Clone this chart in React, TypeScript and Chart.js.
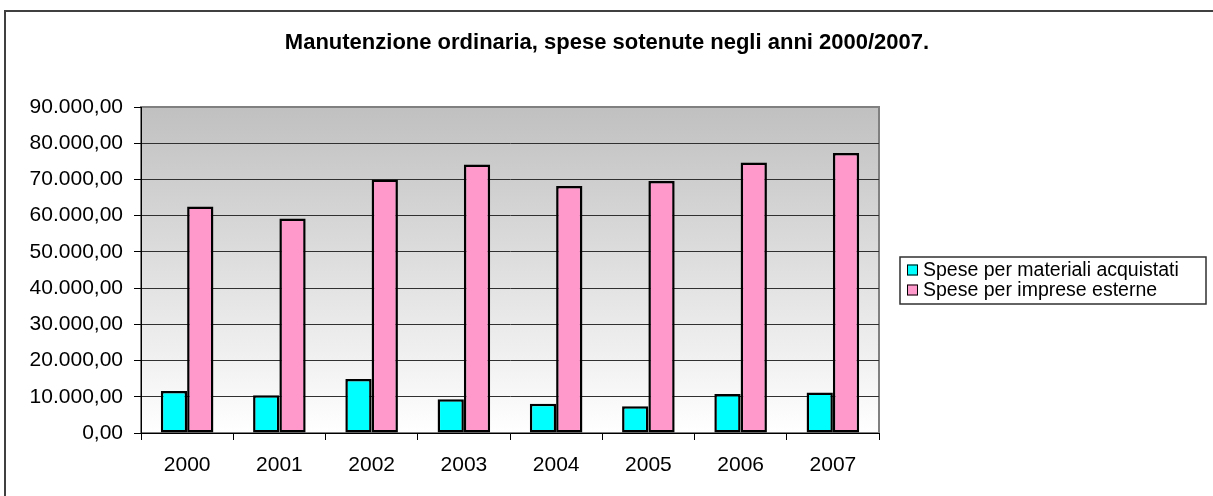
import { useEffect, useRef } from 'react';
import { Chart, registerables } from 'chart.js';

Chart.register(...registerables);

const TITLE = 'Manutenzione ordinaria, spese sotenute negli anni 2000/2007.';
const CATEGORIES = ['2000', '2001', '2002', '2003', '2004', '2005', '2006', '2007'];
const SERIES_LABELS = ['Spese per materiali acquistati', 'Spese per imprese esterne'];
const MATERIALI = [11600, 10400, 14900, 9300, 8100, 7400, 10800, 11200];
const IMPRESE = [62500, 59200, 70000, 74100, 68200, 69600, 74700, 77300];
const Y_TICK_LABELS = [
  '0,00', '10.000,00', '20.000,00', '30.000,00', '40.000,00',
  '50.000,00', '60.000,00', '70.000,00', '80.000,00', '90.000,00',
];
const SERIES_COLORS = ['#00FFFF', '#FF99CC'];

const FONT = 'Liberation Sans, Arial, sans-serif';

const backgroundPlugin = {
  id: 'bgFrame',
  beforeDraw(chart: any) {
    const { ctx, chartArea: a } = chart;
    ctx.save();
    ctx.fillStyle = '#FFFFFF';
    ctx.fillRect(0, 0, chart.width, chart.height);
    const g = ctx.createLinearGradient(0, a.top, 0, a.bottom);
    g.addColorStop(0, '#C0C0C0');
    g.addColorStop(1, '#FFFFFF');
    ctx.fillStyle = g;
    ctx.fillRect(a.left, a.top, a.right - a.left, a.bottom - a.top);
    ctx.strokeStyle = '#808080';
    ctx.lineWidth = 2;
    ctx.strokeRect(a.left, a.top, a.right - a.left, a.bottom - a.top);
    ctx.restore();
  },
  afterDraw(chart: any) {
    const { ctx } = chart;
    ctx.save();
    // outer chart border (only top & left visible)
    ctx.strokeStyle = '#404040';
    ctx.lineWidth = 2;
    ctx.beginPath();
    ctx.moveTo(5, 600);
    ctx.lineTo(5, 11);
    ctx.lineTo(1300, 11);
    ctx.stroke();

    // title
    ctx.fillStyle = '#000';
    ctx.font = `bold 22px ${FONT}`;
    ctx.textAlign = 'center';
    ctx.textBaseline = 'middle';
    ctx.fillText(TITLE, 607, 43);

    // legend
    const lx = 900, ly = 257, lw = 306, lh = 47;
    ctx.fillStyle = '#FFFFFF';
    ctx.fillRect(lx, ly, lw, lh);
    ctx.strokeStyle = '#303030';
    ctx.lineWidth = 1.5;
    ctx.strokeRect(lx, ly, lw, lh);
    ctx.font = `19.5px ${FONT}`;
    ctx.textAlign = 'left';
    chart.data.datasets.forEach((ds: any, i: number) => {
      const cy = 270 + i * 20;
      ctx.fillStyle = ds.backgroundColor;
      ctx.fillRect(907, cy - 5.5, 11, 11);
      ctx.strokeStyle = '#000';
      ctx.lineWidth = 1;
      ctx.strokeRect(907.5, cy - 5, 10, 10);
      ctx.fillStyle = '#000';
      ctx.fillText(ds.label, 923, cy + 1);
    });
    ctx.restore();
  },
};

export default function App() {
  const ref = useRef<HTMLCanvasElement>(null);
  useEffect(() => {
    const chart = new Chart(ref.current as HTMLCanvasElement, {
      type: 'bar',
      data: {
        labels: CATEGORIES,
        datasets: [
          {
            label: SERIES_LABELS[0],
            data: MATERIALI,
            backgroundColor: SERIES_COLORS[0],
            borderColor: '#000',
            borderWidth: 2.5,
            borderSkipped: false,
          },
          {
            label: SERIES_LABELS[1],
            data: IMPRESE,
            backgroundColor: SERIES_COLORS[1],
            borderColor: '#000',
            borderWidth: 2.5,
            borderSkipped: false,
          },
        ],
      },
      options: {
        responsive: false,
        animation: false,
        devicePixelRatio: 1,
        layout: { padding: { left: 0, top: 107, right: 334, bottom: 0 } },
        datasets: { bar: { barPercentage: 1, categoryPercentage: 0.57 } },
        plugins: {
          legend: { display: false },
          title: { display: false },
          tooltip: { enabled: false },
        },
        scales: {
          x: {
            grid: {
              display: true,
              drawOnChartArea: false,
              drawTicks: true,
              tickLength: 7,
              color: '#000',
              offset: true,
            },
            border: { display: true, color: '#000', width: 1 },
            ticks: { font: { family: FONT, size: 21 }, color: '#000', padding: 13 },
            afterFit: (s: any) => { s.height = 63; },
          },
          y: {
            min: 0,
            max: 90000,
            ticks: {
              stepSize: 10000,
              font: { family: FONT, size: 21 },
              color: '#000',
              padding: 11,
              callback: (_v: any, i: number) => Y_TICK_LABELS[i],
            },
            grid: {
              color: (c: any) => (c.tick && c.tick.value === 90000 ? 'rgba(0,0,0,0)' : '#303030'),
              tickColor: '#000',
              lineWidth: 1,
              tickLength: 7,
              drawTicks: true,
            },
            border: { display: true, color: '#000', width: 1 },
            afterFit: (s: any) => { s.width = 141; },
          },
        },
      },
      plugins: [backgroundPlugin],
    } as any);
    return () => chart.destroy();
  }, []);

  return (
    <div style={{ position: 'fixed', left: 0, top: 0, width: 1213, height: 496, background: '#fff' }}>
      <canvas ref={ref} width={1213} height={496} style={{ display: 'block', width: 1213, height: 496 }} />
    </div>
  );
}
